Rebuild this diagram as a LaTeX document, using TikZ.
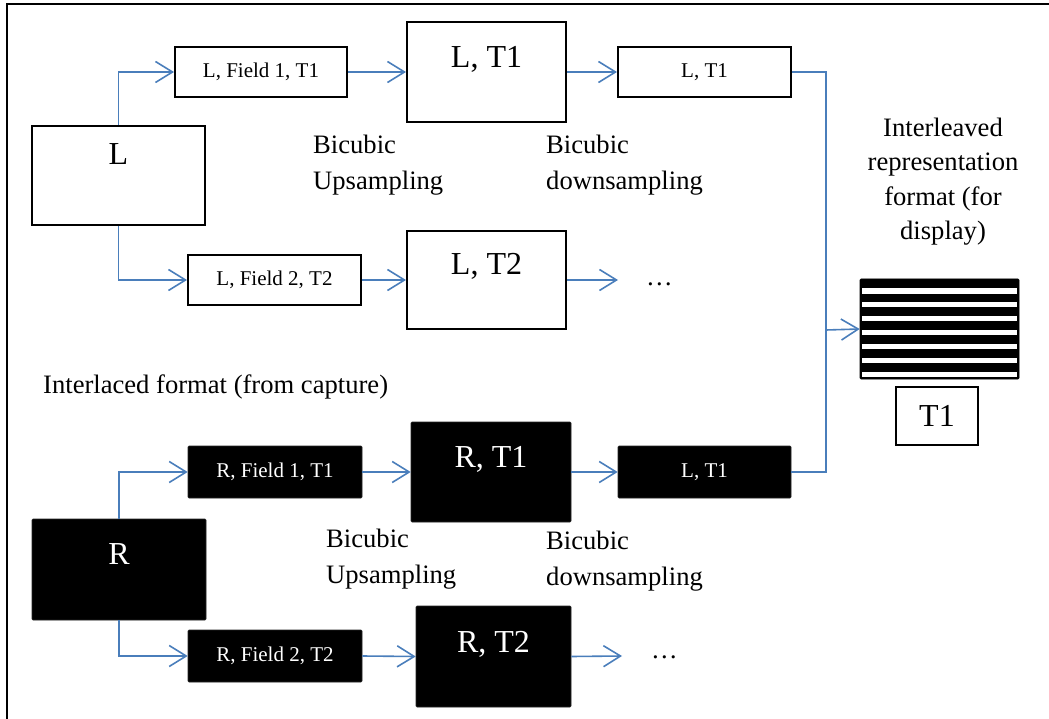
\documentclass[tikz,border=0pt]{standalone}
\usepackage{fontspec}
\setmainfont{Liberation Serif}
\usetikzlibrary{arrows.meta}
\definecolor{lineblue}{RGB}{74,126,187}
\begin{document}
\begin{tikzpicture}[x=1pt,y=-1pt,
  wbox/.style={draw=black,line width=2pt,fill=white,inner sep=0pt},
  bbox/.style={fill=black,draw=black!85,line width=0.6pt,inner sep=0pt,rounded corners=1pt},
  small/.style={font=\fontsize{21}{25}\selectfont},
  big/.style={font=\fontsize{32}{38}\selectfont,inner sep=0pt,anchor=base},
  mid/.style={font=\fontsize{26.6}{35.5}\selectfont,inner sep=0pt},
  conn/.style={draw=lineblue,line width=1.6pt},
  arr/.style={conn,-{Straight Barb[length=17pt,width=21pt]}}]
\useasboundingbox (0,0) rectangle (1049,719);
% frame (top and left edges)
\draw[line width=2pt] (7,719) -- (7,4.3) -- (1049,4.3);

% ---- L branch (white boxes)
\node[wbox,minimum width=173,minimum height=99] (L) at (118.5,175.5) {};
\node[big] (Lt) at (118.5,165) {L};
\node[wbox,small,minimum width=172,minimum height=50] (LF1) at (261,72) {L, Field 1, T1};
\node[wbox,small,minimum width=173,minimum height=50] (LF2) at (274.5,280) {L, Field 2, T2};
\node[wbox,minimum width=159,minimum height=100] (LT1) at (486.5,72) {};
\node[big] (LT1t) at (486.5,68) {L, T1};
\node[wbox,minimum width=159,minimum height=98] (LT2) at (486.5,280) {};
\node[big] (LT2t) at (486.5,275) {L, T2};
\node[wbox,small,minimum width=173,minimum height=50] (LS) at (704.5,72) {L, T1};
\node[mid,anchor=base] (dots1) at (659.5,285) {\dots};
\coordinate (d1) at (618,280);

\draw[arr] (L.north) |- (LF1.west);
\draw[arr] (L.south) |- (LF2.west);
\draw[arr] (LF1.east) -- (LT1.west);
\draw[arr] (LF2.east) -- (LT2.west);
\draw[arr] (LT1.east) -- (LS.west);
\draw[arr] (LT2.east) -- (d1);

\node[mid,anchor=base west,align=left] (up1) at (313,189.5) {Bicubic\\Upsampling};
\node[mid,anchor=base west,align=left] (down1) at (546,189.5) {Bicubic\\downsampling};

% ---- R branch (black boxes)
\node[mid,anchor=base west] (interl) at (43,393) {Interlaced format (from capture)};
\node[bbox,minimum width=174,minimum height=101] (R) at (119,569.5) {};
\node[big,text=white] (Rt) at (119,564) {R};
\node[bbox,small,text=white,minimum width=174,minimum height=52] (RF1) at (275,472) {R, Field 1, T1};
\node[bbox,small,text=white,minimum width=174,minimum height=52] (RF2) at (275,656) {R, Field 2, T2};
\node[bbox,minimum width=160,minimum height=100] (RT1) at (491,472) {};
\node[big,text=white] (RT1t) at (491,467) {R, T1};
\node[bbox,minimum width=155,minimum height=101] (RT2) at (493.5,656.5) {};
\node[big,text=white] (RT2t) at (493.5,652) {R, T2};
\node[bbox,small,text=white,minimum width=173,minimum height=52] (RS) at (704.5,472) {L, T1};
\node[mid,anchor=base] (dots2) at (664.5,658) {\dots};
\coordinate (d2) at (622,656);

\draw[arr] (R.north) |- (RF1.west);
\draw[arr] (R.south) |- (RF2.west);
\draw[arr] (RF1.east) -- (RT1.west);
\draw[arr] (RF2.east) -- (RT2.west);
\draw[arr] (RT1.east) -- (RS.west);
\draw[arr] (RT2.east) -- (d2);

\node[mid,anchor=base west,align=left] (up2) at (326,583) {Bicubic\\Upsampling};
\node[mid,anchor=base west,align=left] (down2) at (546,585) {Bicubic\\downsampling};

% ---- merge to display
\coordinate (m) at (826,330);
\draw[conn] (LS.east) -| (m);
\draw[conn] (RS.east) -| (m);
\node[fill=black,draw=black,line width=0.6pt,rounded corners=1pt,inner sep=0pt,minimum width=159,minimum height=100] (disp) at (939.5,329) {};
\foreach \k in {0,...,6}{
  \fill[white] (862,288.5+13.9*\k) rectangle (1017,293.5+13.9*\k);
}
\draw[arr] (m) -- (disp.west);
\node[wbox,line width=1.4pt,font=\fontsize{32}{38}\selectfont,minimum width=82,minimum height=58] (T1) at (937,416) {T1};
\node[mid,anchor=base,align=center,font=\fontsize{26.6}{34.5}\selectfont] (interlv) at (943,240) {Interleaved\\representation\\format (for\\display)};
\end{tikzpicture}
\end{document}
